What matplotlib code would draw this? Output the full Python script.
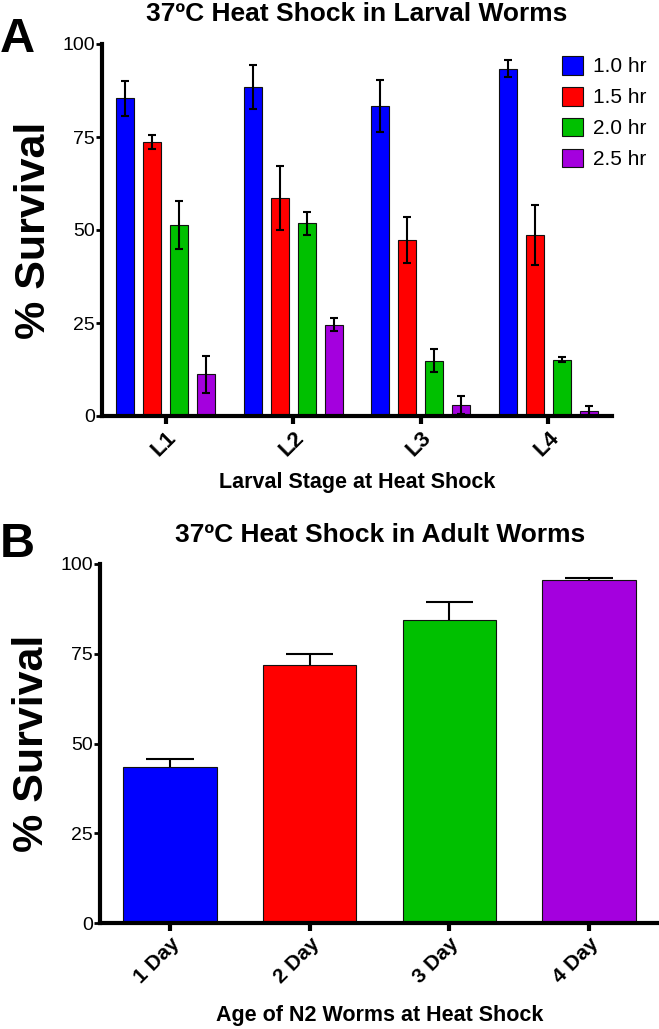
import numpy as np
import matplotlib
matplotlib.use('Agg')
import matplotlib.pyplot as plt

# データ
stages = ['L1', 'L2', 'L3', 'L4']
durations = ['1.0 hr', '1.5 hr', '2.0 hr', '2.5 hr']
larval_mean = [
    [85.4, 88.4, 83.3, 93.4],   # 1.0 hr
    [73.6, 58.6, 47.2, 48.7],   # 1.5 hr
    [51.4, 51.8, 14.9, 15.1],   # 2.0 hr
    [11.2, 24.5, 2.9, 1.3],     # 2.5 hr
]
larval_err = [
    [4.7, 6.0, 6.9, 2.4],
    [1.9, 8.5, 6.2, 8.1],
    [6.5, 3.1, 3.0, 0.7],
    [4.9, 1.75, 2.4, 1.3],
]

ages = ['1 Day', '2 Day', '3 Day', '4 Day']
adult_mean = [43.5, 72.0, 84.3, 95.5]
adult_err = [2.1, 2.8, 5.1, 0.7]

colors = ['#0000FF', '#FF0000', '#00C000', '#A400DE']

bold_font = ['Liberation Sans', 'DejaVu Sans']
light_font = ['Liberation Sans Narrow', 'Liberation Sans', 'DejaVu Sans']

W, H = 659, 1029
fig = plt.figure(figsize=(W / 100, H / 100), dpi=100)


def fig_rect(x0, x1, ytop, ybot):
    return [x0 / W, 1 - ybot / H, (x1 - x0) / W, (ybot - ytop) / H]


def style_axes(ax):
    for s in ['top', 'right']:
        ax.spines[s].set_visible(False)
    for s in ['left', 'bottom']:
        ax.spines[s].set_linewidth(3)
    ax.set_ylim(0, 100)
    ax.set_xlim(-0.5, 3.5)
    ax.set_yticks([0, 25, 50, 75, 100])
    ax.tick_params(axis='y', length=4, width=2, pad=1, labelsize=14)
    ax.tick_params(axis='x', length=6, width=3, pad=2)
    for lab in ax.get_yticklabels():
        lab.set_family(light_font)


# ---- A ----
axA = fig.add_axes(fig_rect(102, 612, 44, 416))
x = np.arange(len(stages))
step, bw = 0.212, 0.141
bars = []
for i, d in enumerate(durations):
    xs = x + (i - 1.5) * step
    b = axA.bar(xs, larval_mean[i], width=bw, color=colors[i],
                edgecolor='#111111', linewidth=0.8, label=d, zorder=2)
    bars.append(b)
    axA.errorbar(xs, larval_mean[i], yerr=larval_err[i], fmt='none',
                 ecolor='black', elinewidth=1.5, capsize=3.2, capthick=1.5, zorder=3)
style_axes(axA)
axA.set_xticks(x)
axA.set_xticklabels(stages, rotation=45, ha='right', rotation_mode='anchor',
                    fontsize=16, fontweight='bold', family=bold_font)
axA.set_ylabel('% Survival', fontsize=31, fontweight='bold', family=bold_font,
               labelpad=6)
leg = axA.legend(handles=bars, loc='upper left', bbox_to_anchor=(562 / W, 1 - 56 / H),
                 bbox_transform=fig.transFigure, frameon=False, borderpad=0,
                 handlelength=1.0, handleheight=1.0, handletextpad=0.5,
                 labelspacing=0.5, borderaxespad=0,
                 prop={'family': light_font, 'size': 15})

# ---- B ----
axB = fig.add_axes(fig_rect(100, 659, 564, 923))
xb = np.arange(len(ages))
axB.bar(xb, adult_mean, width=0.67, color=colors, edgecolor='#111111',
        linewidth=0.8, zorder=2)
top = np.array(adult_mean) + np.array(adult_err)
axB.vlines(xb, adult_mean, top, color='black', linewidth=1.5, zorder=3)
axB.hlines(top, xb - 0.17, xb + 0.17, color='black', linewidth=1.5, zorder=3)
style_axes(axB)
axB.set_xticks(xb)
axB.set_xticklabels(ages, rotation=45, ha='right', rotation_mode='anchor',
                    fontsize=15, fontweight='bold', family=bold_font)
axB.set_ylabel('% Survival', fontsize=31, fontweight='bold', family=bold_font,
               labelpad=6)

# タイトル・軸ラベル（位置は図から合わせる）
fig.text(357 / W, 1 - 21 / H, '37ºC Heat Shock in Larval Worms', ha='center',
         va='baseline', fontsize=19, fontweight='bold', family=bold_font)
fig.text(357 / W, 1 - 488 / H, 'Larval Stage at Heat Shock', ha='center',
         va='baseline', fontsize=15.5, fontweight='bold', family=bold_font)
fig.text(380 / W, 1 - 542 / H, '37ºC Heat Shock in Adult Worms', ha='center',
         va='baseline', fontsize=19, fontweight='bold', family=bold_font)
fig.text(380 / W, 1 - 1021 / H, 'Age of N2 Worms at Heat Shock', ha='center',
         va='baseline', fontsize=15.5, fontweight='bold', family=bold_font)

# パネルラベル
fig.text(0 / W, 1 - 52 / H, 'A', fontsize=35, fontweight='bold', family=bold_font)
fig.text(0 / W, 1 - 557 / H, 'B', fontsize=35, fontweight='bold', family=bold_font)

fig.savefig('out.png', dpi=100)
